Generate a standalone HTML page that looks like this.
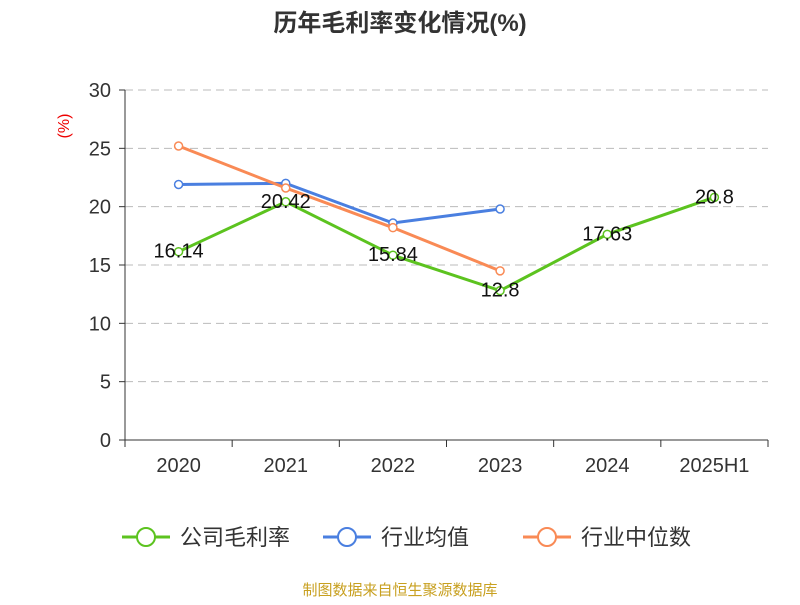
<!DOCTYPE html>
<html><head><meta charset="utf-8"><style>
body{margin:0;background:#fff;}
svg text{font-family:"Liberation Sans","Noto Sans CJK SC",sans-serif;}
</style></head><body>
<svg id="chart" width="800" height="600" xmlns="http://www.w3.org/2000/svg">
<text x="400" y="31" text-anchor="middle" font-size="24" font-weight="bold" fill="#333">历年毛利率变化情况(%)</text>
<text x="0" y="0" transform="translate(69,126) rotate(-90)" text-anchor="middle" font-size="16" fill="#e00">(%)</text>
<g id="grid"></g><g id="axes"></g><g id="series"></g><g id="legend"></g>
<text x="400" y="595" text-anchor="middle" font-size="15" fill="#c8a020">制图数据来自恒生聚源数据库</text>
</svg>
<script>
const categories=["2020","2021","2022","2023","2024","2025H1"];
const yTicks=[0,5,10,15,20,25,30];
const companyValues=[16.14,20.42,15.84,12.8,17.63,20.8];
const industryAvg=[21.9,22.0,18.6,19.8,null,null];
const industryMedian=[25.2,21.6,18.2,14.5,null,null];
const seriesNames=["公司毛利率","行业均值","行业中位数"];
const colors=["#5cc31f","#4a7fe0","#f98a55"];
const NS="http://www.w3.org/2000/svg";
const L=125,R=768,T=90,B=440,ymax=30;
const bw=(R-L)/categories.length;
const xs=i=>L+bw*(i+0.5);
const ys=v=>B-(v/ymax)*(B-T);
function mk(tag,attrs,parent,text){const e=document.createElementNS(NS,tag);for(const k in attrs)e.setAttribute(k,attrs[k]);if(text!==undefined)e.textContent=text;parent.appendChild(e);return e;}
const grid=document.getElementById('grid'),axes=document.getElementById('axes'),ser=document.getElementById('series'),leg=document.getElementById('legend');
yTicks.forEach(t=>{
  if(t>0){const g=mk('line',{x1:L,x2:R,y1:ys(t),y2:ys(t),stroke:'#bbb','stroke-dasharray':'8,5'},grid);
  }
  const tk=mk('line',{x1:L-6,x2:L,y1:ys(t),y2:ys(t),stroke:'#333'},axes);
  
  const tl=mk('text',{x:L-14,y:ys(t)+7,'text-anchor':'end','font-size':20,fill:'#333'},axes,String(t));
  
});
const ya=mk('line',{x1:L,x2:L,y1:T,y2:B,stroke:'#333'},axes);

const xa=mk('line',{x1:L,x2:R,y1:B,y2:B,stroke:'#333'},axes);

for(let i=0;i<=categories.length;i++){const t=mk('line',{x1:L+bw*i,x2:L+bw*i,y1:B,y2:B+7,stroke:'#333'},axes);
}
categories.forEach((c,i)=>{const t=mk('text',{x:xs(i),y:B+32,'text-anchor':'middle','font-size':20,fill:'#333'},axes,c);
});
function drawSeries(vals,color,name){
  const pts=vals.map((v,i)=>v==null?null:[xs(i),ys(v)]).filter(p=>p);
  const pl=mk('polyline',{points:pts.map(p=>p.join(',')).join(' '),fill:'none',stroke:color,'stroke-width':3},ser);
  
  vals.forEach((v,i)=>{if(v==null)return;
    const c=mk('circle',{cx:xs(i),cy:ys(v),r:4,fill:'#fff',stroke:color,'stroke-width':1.5},ser);
    
  });
}
drawSeries(industryAvg,colors[1],'industry-avg');
drawSeries(industryMedian,colors[2],'industry-median');
drawSeries(companyValues,colors[0],'company-margin');
companyValues.forEach((v,i)=>{const t=mk('text',{x:xs(i),y:ys(v)+6,'text-anchor':'middle','font-size':20,fill:'#111'},ser,String(v));
});
const lx=[122,323,523];
seriesNames.forEach((n,i)=>{
  const g=mk('g',{},leg);
  
  mk('line',{x1:lx[i],x2:lx[i]+48,y1:537,y2:537,stroke:colors[i],'stroke-width':3},g);
  mk('circle',{cx:lx[i]+24,cy:537,r:9,fill:'#fff',stroke:colors[i],'stroke-width':2},g);
  mk('text',{x:lx[i]+58,y:545,'font-size':22,fill:'#333'},g,n);
});
</script>
</body></html>
